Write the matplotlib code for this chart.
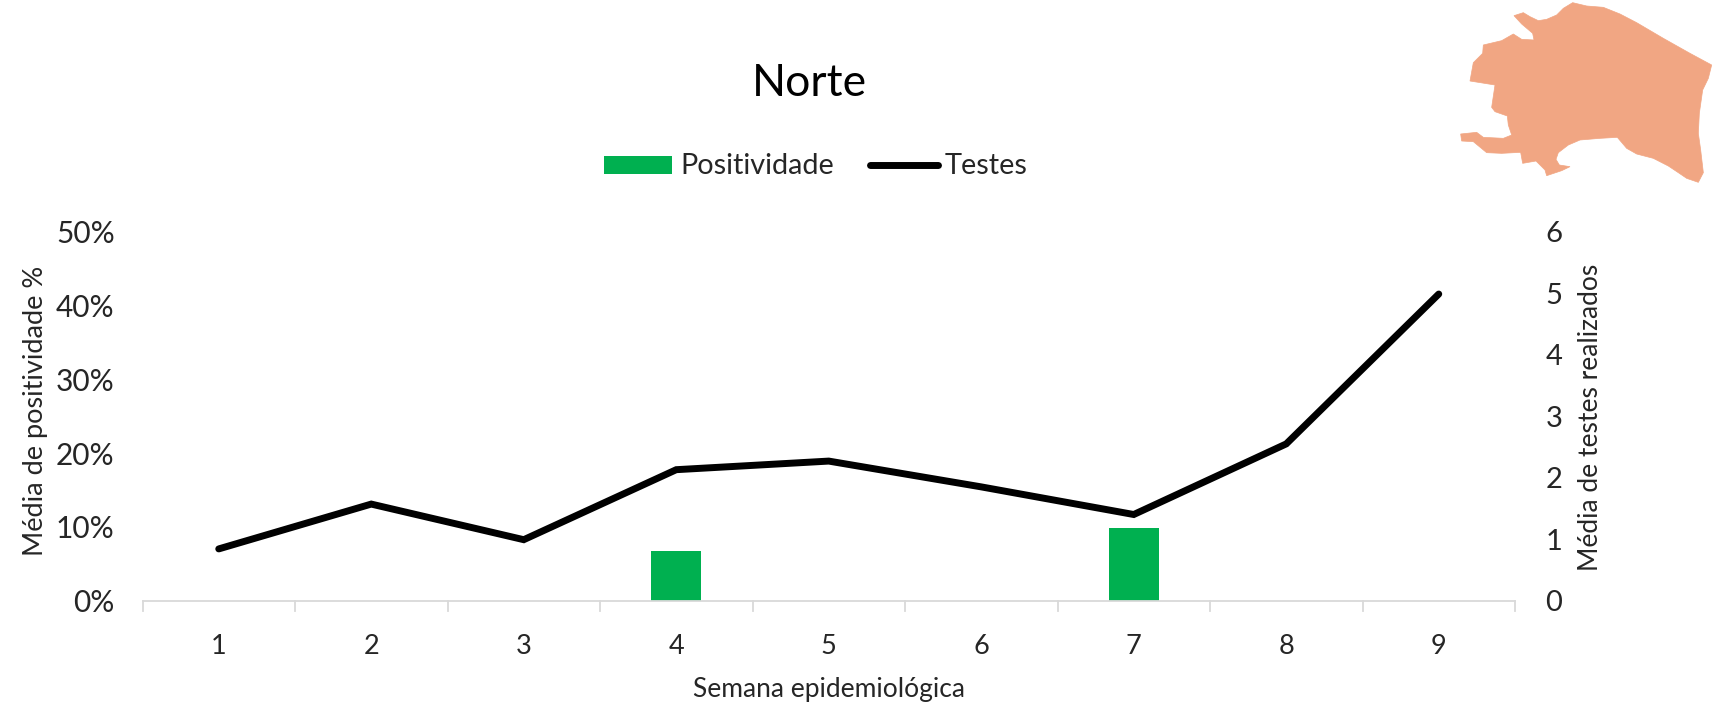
import matplotlib
matplotlib.use("Agg")
import matplotlib.pyplot as plt
from matplotlib.patches import Polygon, Rectangle
from matplotlib.lines import Line2D

plt.rcParams['font.family'] = ['Lato', 'DejaVu Sans']

weeks = [1, 2, 3, 4, 5, 6, 7, 8, 9]
positivity = [0, 0, 0, 6.7, 0, 0, 9.8, 0, 0]
tests = [0.84, 1.57, 0.99, 2.13, 2.27, 1.85, 1.4, 2.55, 4.99]
title = "Norte"
left_label = "Média de positividade %"
right_label = "Média de testes realizados"
x_label = "Semana epidemiológica"
left_ticks = [0, 10, 20, 30, 40, 50]
right_ticks = [0, 1, 2, 3, 4, 5, 6]

# Decorative region silhouette (crop-pixel outline of the map inset)
map_outline = [(252,47),(280,38),(300,50),(325,62),(350,58),(380,45),(400,25),(428,8),(470,18),
 (520,22),(570,42),(620,68),(700,115),(780,160),(845,195),(835,235),(818,270),(808,340),
 (805,400),(812,450),(820,518),(805,547),(770,535),(745,518),(715,498),(670,475),(620,462),
 (590,445),(562,412),(510,415),(450,420),(415,435),(385,458),(378,478),(388,495),(420,500),
 (395,512),(350,527),(345,510),(318,483),(278,490),(272,457),(215,460),(170,458),(130,425),
 (95,423),(92,402),(140,397),(160,412),(220,415),(245,405),(235,375),(232,348),(195,335),
 (185,322),(195,255),(120,243),(130,188),(158,160),(160,135),(215,122),(250,102),(275,118),
 (312,120),(308,100),(275,72)]

W, H = 1730, 714
fig = plt.figure(figsize=(W/100, H/100), dpi=100, facecolor='white')
ax = fig.add_axes([142.5/W, 1-600.5/H, (1515-142.5)/W, (600.5-232)/H])
text = '#262626'
grey = '#D9D9D9'

ax.bar(weeks, positivity, width=0.33, color='#00B050', zorder=2)
ax.set_xlim(0.5, 9.5)
ax.set_ylim(0, 50)
ax.set_yticks(left_ticks)
ax.set_yticklabels([f"{t}%" for t in left_ticks], fontsize=21.5, color=text)
ax.set_xticks(weeks)
ax.set_xticklabels(weeks, fontsize=19.5, color=text)
ax.tick_params(axis='y', length=0, pad=20)
ax.tick_params(axis='x', length=0, pad=24)
for x in [w + 0.5 for w in [0] + weeks]:
    ax.plot([x, x], [0, -1.45], color=grey, lw=1.3, clip_on=False, zorder=1)
for s in ['top', 'left', 'right']:
    ax.spines[s].set_visible(False)
ax.spines['bottom'].set_color(grey)
ax.spines['bottom'].set_linewidth(1.3)

ax2 = ax.twinx()
ax2.plot(weeks, tests, color='black', lw=5, solid_capstyle='round', solid_joinstyle='miter', zorder=3)
ax2.set_ylim(0, 6)
ax2.set_yticks(right_ticks)
ax2.set_yticklabels(right_ticks, fontsize=21, color=text)
ax2.tick_params(axis='y', length=0, pad=22)
for s in ax2.spines.values():
    s.set_visible(False)

fig.text(36/W, 1-(411/H), left_label, rotation=90, ha='center', va='center', fontsize=19.5, color=text)
fig.text(1591/W, 1-(417/H), right_label, rotation=90, ha='center', va='center', fontsize=19, color=text)
fig.text(829/W, 1-(690/H), x_label, ha='center', va='center', fontsize=19, color=text)
fig.text(809/W, 1-(84/H), title, ha='center', va='center', fontsize=32, color='black')

# legend, built as real artists
fig.add_artist(Rectangle((604/W, 1-173.5/H), 68/W, 18/H, transform=fig.transFigure, color='#00B050', lw=0))
fig.text(680/W, 1-166/H, "Positividade", ha='left', va='center', fontsize=20.8, color=text)
fig.add_artist(Line2D([870/W, 938/W], [1-165/H, 1-165/H], transform=fig.transFigure, color='black', lw=5, solid_capstyle='round'))
fig.text(945/W, 1-166/H, "Testes", ha='left', va='center', fontsize=20.8, color=text)

pts = [((1430 + x/3)/W, 1-(y/3)/H) for x, y in map_outline]
fig.add_artist(Polygon(pts, closed=True, transform=fig.transFigure, facecolor='#F1A683', edgecolor='#F1A683', lw=0.5))

fig.savefig('out.png', dpi=100)
